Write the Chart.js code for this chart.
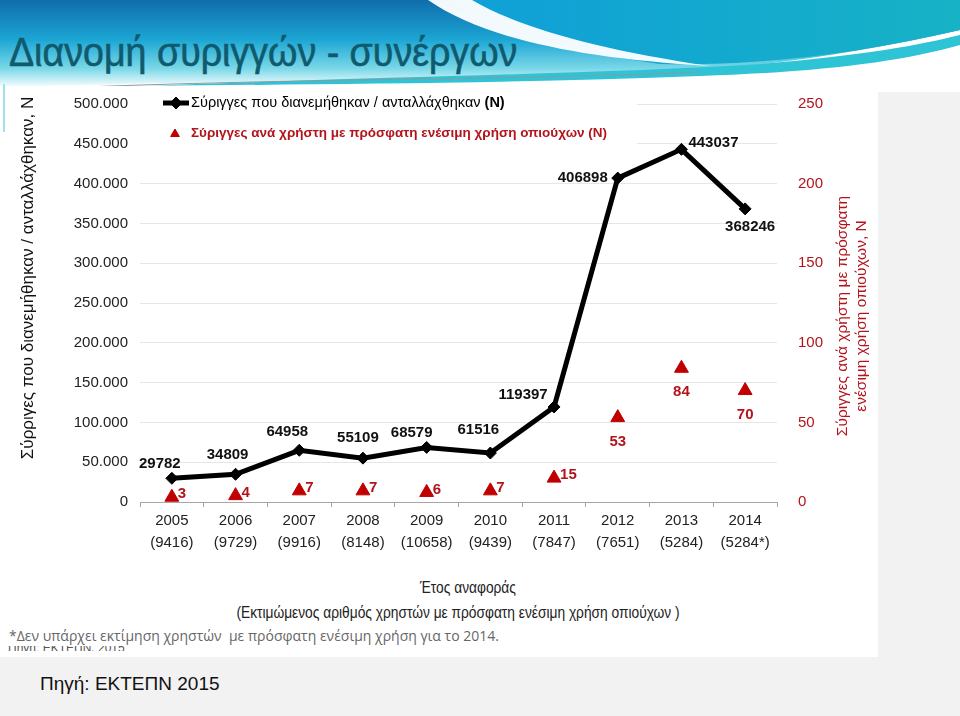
<!DOCTYPE html>
<html lang="el">
<head>
  <meta charset="UTF-8" />
  <title>Διανομή συριγγών - συνέργων</title>
  <script src="https://cdn.jsdelivr.net/npm/chart.js"></script>
  <style>
    body { margin: 0; width: 960px; height: 716px; position: relative; overflow: hidden; background: #f2f2f2; font-family: 'Liberation Sans', Arial, sans-serif; }
    #banner { position: absolute; left: 0; top: 0; }
    #panel { position: absolute; left: 0; top: 86px; width: 878px; height: 571px; background: #fff; }
    #edge { position: absolute; left: 3px; top: 84px; width: 2px; height: 48px; background: #9fe3ec; }
    h1 { position: absolute; left: 9px; top: 33px; margin: 0; font: normal 40px/39px 'Liberation Sans', Arial, sans-serif; color: #105a6e; white-space: nowrap; transform: scaleX(0.94); transform-origin: left top; -webkit-text-stroke: 0.6px #105a6e; }
    .note { position: absolute; white-space: nowrap; }
    .narrow { transform: scaleX(0.86); transform-origin: center top; }
    #xtitle1 { left: 318px; width: 300px; top: 579px; text-align: center; font: 16px/18px 'Liberation Sans', sans-serif; color: #222; }
    #xtitle2 { left: 108px; width: 700px; top: 604px; text-align: center; font: 16px/18px 'Liberation Sans', sans-serif; color: #222; }
    #foot { left: 9px; top: 627px; font: 14px/18px 'Open Sans', sans-serif; color: #666; }
    #cut { left: 8px; top: 646px; height: 5px; overflow: hidden; }
    #cut span { position: relative; top: -8px; font: 12px/14px 'Liberation Sans', sans-serif; color: #555; }
    #source { left: 40px; top: 673px; font: 19px/22px 'Liberation Sans', Arial, sans-serif; color: #111; }
    #chart { position: absolute; left: 0; top: 0; }
  </style>
</head>
<body>

  <svg id="banner" width="960" height="92" viewBox="0 0 960 92">
    <defs>
      <linearGradient id="gBlue" x1="0" y1="0" x2="0" y2="1">
        <stop offset="0" stop-color="#106cab"/>
        <stop offset="0.45" stop-color="#1ca6d4"/>
        <stop offset="0.78" stop-color="#7ad8e8"/>
        <stop offset="1" stop-color="#ffffff"/>
      </linearGradient>
      <linearGradient id="gRight" x1="0" y1="0" x2="1" y2="0">
        <stop offset="0" stop-color="#0f9fd8"/>
        <stop offset="1" stop-color="#17b2c6"/>
      </linearGradient>
    </defs>
    <rect width="960" height="92" fill="#fff"/>
    <path d="M0,0 H960 V30 C820,62 700,74 560,78 C380,83 180,80 0,88 Z" fill="url(#gBlue)"/>
    <path d="M450,0 H960 V30 C840,58 740,66 660,64 C560,50 500,30 450,0 Z" fill="url(#gRight)"/>
    <path d="M428,0 C480,36 570,58 710,66 C600,50 520,28 472,0 Z" fill="#fff" opacity="0.95"/>
    <path d="M150,86 C400,76 600,74 760,64 C860,56 920,45 960,35 V45 C900,62 820,72 700,76 C500,84 300,84 150,86 Z" fill="#2fc3d6"/>
    <path d="M60,88 C300,78 520,80 700,72" stroke="#8a9a9f" stroke-width="1" fill="none"/>
  </svg>
  <div id="panel"></div>
  <div id="edge"></div>
  <h1>Διανομή συριγγών - συνέργων</h1>

  <div class="note narrow" id="xtitle1">Έτος αναφοράς</div>
  <div class="note narrow" id="xtitle2">(Εκτιμώμενος αριθμός χρηστών με πρόσφατη ενέσιμη χρήση οπιούχων )</div>
  <div class="note" id="foot">*Δεν υπάρχει εκτίμηση χρηστών&nbsp; με πρόσφατη ενέσιμη χρήση για το 2014.</div>
  <div class="note" id="cut"><span>Πηγή: ΕΚΤΕΠΝ, 2015</span></div>
  <div class="note" id="source">Πηγή: ΕΚΤΕΠΝ 2015</div>

  <canvas id="chart" width="960" height="716"></canvas>

  <script>
    const years = ['2005', '2006', '2007', '2008', '2009', '2010', '2011', '2012', '2013', '2014'];
    const userEstimates = ['9416', '9729', '9916', '8148', '10658', '9439', '7847', '7651', '5284', '5284*'];
    const syringes = [29782, 34809, 64958, 55109, 68579, 61516, 119397, 406898, 443037, 368246];
    const syringesPerUser = [3, 4, 7, 7, 6, 7, 15, 53, 84, 70];

    const labels = years.map((y, i) => [y, '(' + userEstimates[i] + ')']);

    const RED = '#c00000';
    const TEXT_RED = '#b3141b';
    const FONT = "'Liberation Sans', Arial, sans-serif";

    // where each value label sits relative to its point
    const lineLabelOffset = [[-12, -14], [-8, -19], [-12, -18], [-5, -20], [-15, -15],
                             [-12, -23], [-31, -12], [-35, 0], [32, -6], [5, 18]];
    const triLabelPos = ['right', 'right', 'right', 'right', 'right', 'right', 'right', 'below', 'below', 'below'];

    const dotted = v => String(v).replace(/\B(?=(\d{3})+(?!\d))/g, '.');

    const overlay = {
      id: 'overlay',
      beforeDatasetsDraw(chart) {
        const ctx = chart.ctx;
        ctx.save();
        // legend box hides the grid behind it
        ctx.fillStyle = '#fff';
        ctx.fillRect(140, 91, 497, 62);

        ctx.strokeStyle = '#000';
        ctx.lineWidth = 5;
        ctx.beginPath();
        ctx.moveTo(163, 103);
        ctx.lineTo(189, 103);
        ctx.stroke();
        ctx.lineWidth = 1;
        Chart.helpers.drawPoint(ctx, { pointStyle: 'rectRot', radius: 6, borderWidth: 1 }, 176, 103);
        ctx.fillStyle = '#000';
        ctx.fill();

        ctx.textBaseline = 'middle';
        ctx.textAlign = 'left';
        ctx.font = '14.5px ' + FONT;
        const t1 = chart.data.datasets[0].label;
        ctx.fillText(t1, 191, 103);
        const w1 = ctx.measureText(t1).width;
        ctx.font = 'bold 14.5px ' + FONT;
        ctx.fillText(' (N)', 191 + w1, 103);

        ctx.fillStyle = RED;
        ctx.strokeStyle = RED;
        Chart.helpers.drawPoint(ctx, { pointStyle: 'triangle', radius: 5, borderWidth: 1 }, 175, 134);
        ctx.fill();
        ctx.fillStyle = TEXT_RED;
        ctx.font = 'bold 13.5px ' + FONT;
        ctx.fillText(chart.data.datasets[1].label + ' (N)', 191, 133);
        ctx.restore();
      },
      afterDatasetsDraw(chart) {
        const ctx = chart.ctx;
        ctx.save();
        ctx.font = 'bold 15px ' + FONT;
        ctx.textBaseline = 'middle';
        ctx.textAlign = 'center';
        ctx.fillStyle = '#111';
        chart.getDatasetMeta(0).data.forEach((pt, i) => {
          const [dx, dy] = lineLabelOffset[i];
          ctx.fillText(String(syringes[i]), pt.x + dx, pt.y + dy);
        });
        ctx.fillStyle = TEXT_RED;
        chart.getDatasetMeta(1).data.forEach((pt, i) => {
          if (triLabelPos[i] === 'right') {
            ctx.textAlign = 'left';
            ctx.fillText(String(syringesPerUser[i]), pt.x + 6, pt.y - 3);
          } else {
            ctx.textAlign = 'center';
            ctx.fillText(String(syringesPerUser[i]), pt.x, pt.y + 24);
          }
        });

        // axis titles
        ctx.textAlign = 'center';
        ctx.font = '17px ' + FONT;
        ctx.fillStyle = '#111';
        ctx.save();
        ctx.translate(28, 278);
        ctx.rotate(-Math.PI / 2);
        ctx.fillText('Σύρριγες που διανεμήθηκαν / ανταλλάχθηκαν, N', 0, 0);
        ctx.restore();

        ctx.font = '15.5px ' + FONT;
        ctx.fillStyle = TEXT_RED;
        ctx.save();
        ctx.translate(843, 316);
        ctx.rotate(-Math.PI / 2);
        ctx.fillText('Σύριγγες ανά χρήστη με πρόσφατη', 0, 0);
        ctx.fillText('ενέσιμη χρήση οπιούχων, N', 0, 19);
        ctx.restore();
        ctx.restore();
      }
    };

    new Chart(document.getElementById('chart'), {
      type: 'line',
      data: {
        labels: labels,
        datasets: [
          {
            label: 'Σύριγγες που διανεμήθηκαν / ανταλλάχθηκαν',
            data: syringes,
            yAxisID: 'y',
            borderColor: '#000',
            backgroundColor: '#000',
            borderWidth: 5,
            pointStyle: 'rectRot',
            pointRadius: 6,
            pointBorderWidth: 1,
            tension: 0
          },
          {
            label: 'Σύριγγες ανά χρήστη με πρόσφατη ενέσιμη χρήση οπιούχων',
            data: syringesPerUser,
            yAxisID: 'y1',
            showLine: false,
            borderColor: RED,
            backgroundColor: RED,
            pointStyle: 'triangle',
            pointRadius: 8,
            pointBorderWidth: 1
          }
        ]
      },
      options: {
        responsive: false,
        animation: false,
        devicePixelRatio: 1,
        layout: { padding: { left: 0, right: 0, top: 104, bottom: 154 } },
        plugins: {
          legend: { display: false },
          tooltip: { enabled: false }
        },
        scales: {
          x: {
            offset: true,
            grid: { display: true, offset: true, drawOnChartArea: false, drawTicks: true, tickLength: 5, color: '#a6a6a6' },
            border: { display: true, color: '#a6a6a6', width: 1 },
            ticks: { color: '#222', font: { family: FONT, size: 15, lineHeight: 1.45 }, padding: 3, maxRotation: 0, autoSkip: false },
            afterFit: s => { s.height = 60; }
          },
          y: {
            position: 'left',
            min: 0,
            max: 500000,
            grid: { color: '#e6e6e6', drawTicks: false },
            border: { display: false },
            ticks: { stepSize: 50000, color: '#222', padding: 12, font: { family: FONT, size: 15 }, callback: v => dotted(v) },
            afterFit: s => { s.width = 140; }
          },
          y1: {
            position: 'right',
            min: 0,
            max: 250,
            grid: { display: false },
            border: { display: false },
            ticks: { stepSize: 50, color: TEXT_RED, padding: 13, font: { family: FONT, size: 15 } },
            afterFit: s => { s.width = 183; }
          }
        }
      },
      plugins: [overlay]
    });
  </script>

</body>
</html>
